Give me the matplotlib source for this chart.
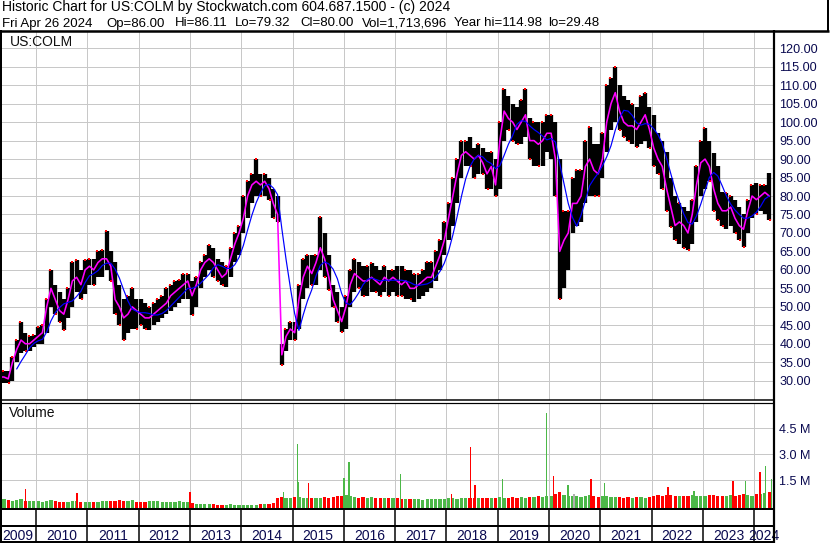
import matplotlib
matplotlib.use("Agg")
import matplotlib.pyplot as plt
from matplotlib.lines import Line2D
import numpy as np
import pandas as pd

# ---------------- data (monthly) ----------------
months = pd.period_range("2009-04", "2024-04", freq="M")

price_high = [
    # 2009 Apr-Dec
    32.5, 32.5, 32.5, 36.5, 41, 46, 43, 42, 42.5,
    # 2010
    44.6, 45, 52, 60, 56, 54, 52, 55, 62, 62.7, 60, 62.7,
    # 2011
    63, 63, 65, 65.4, 70.4, 65, 62, 56, 52, 53, 55, 52,
    # 2012
    52, 51, 50, 51, 52, 53, 55, 56, 57, 57.3, 59, 59,
    # 2013
    57, 58, 62, 64, 66.7, 66, 63, 62, 61, 66, 70, 72,
    # 2014
    80, 84, 86, 90, 86, 86, 85, 82, 80, 40, 44, 46,
    # 2015
    46, 56, 63, 64, 64, 64, 74.4, 70, 64, 56, 54, 50,
    # 2016
    53, 60, 63, 62, 61, 61, 61.8, 61, 60, 61, 60, 60,
    # 2017
    61, 61, 60, 60, 59, 59, 60, 62, 62, 65, 68, 73,
    # 2018
    78, 85, 90, 95, 95, 96, 93, 94, 93, 92, 92, 90,
    # 2019
    100, 109, 107, 105, 104, 106, 109, 101, 100, 100, 100, 102,
    # 2020
    102, 100, 90, 76, 76, 85, 87, 87, 95, 98.8, 94, 94,
    # 2021
    97, 110, 112, 115, 110, 107, 106, 105, 104, 107, 108, 104,
    # 2022
    102, 97, 95, 92, 85, 80, 78, 77, 76, 79, 88, 95,
    # 2023
    98.4, 95, 91.6, 88, 81, 80.7, 80, 79, 77, 75, 79, 83,
    # 2024 Jan-Apr
    83.4, 83, 83, 86.1,
]
price_low = [
    30, 29.5, 29.3, 30, 35, 37.5, 38, 38, 39,
    40, 40, 43, 50, 48, 46, 43.7, 47, 50, 54, 52, 53.6,
    56, 56, 58, 58.2, 60, 57, 48, 45, 41, 43, 44, 44,
    45, 44, 43.7, 45, 46, 47, 48, 49, 50, 51, 52, 52,
    47.8, 50, 55, 58, 60, 58, 57, 56, 55.5, 58, 62, 64,
    70, 74, 78, 80, 80, 80, 79, 74, 73, 34.3, 38, 41,
    41, 44, 52, 55, 56, 56, 60, 58, 54.6, 50, 46, 43.3,
    44, 50, 54, 55, 53, 53, 54, 54, 53, 54, 53, 54,
    53, 53, 52, 52, 51.4, 52, 53, 54, 55, 57, 60, 64,
    68, 72, 78, 85, 88, 88, 85, 86, 86, 82, 82, 80,
    82, 95, 98, 95, 94, 94, 96, 90, 88, 88, 88, 92,
    90, 80, 52, 55, 60, 70, 72, 73, 78, 80, 80, 80,
    85, 92, 98, 100, 98, 96, 95, 94, 93.4, 94, 95, 93,
    88, 86, 82, 76, 71.7, 68, 67, 66, 65.4, 67, 73, 80,
    82, 84, 76, 73.5, 72, 71, 72, 70, 68, 66.3, 70, 74,
    75, 76, 75, 73.5,
]
price_close = [
    31, 31, 30.5, 35, 38.5, 41, 40, 40, 41,
    42, 43, 50, 55, 52, 49, 48, 52, 57, 58, 56, 60,
    61, 60, 62, 63, 63, 61, 52, 50, 47, 48, 50, 49,
    48, 47, 47, 48, 49, 50, 51, 53, 54, 55, 56, 57,
    53, 56, 60, 62, 63, 62, 60, 58, 59, 63, 67, 70,
    74, 80, 83, 84, 83, 84, 82, 78, 75, 37, 42, 44,
    43, 52, 58, 61, 59, 62, 66, 63, 58, 52, 49, 46,
    50, 56, 59, 58, 57, 57, 58, 57, 56, 58, 57, 58,
    57, 56, 57, 55, 55, 56, 57, 58, 58, 61, 64, 68,
    74, 80, 86, 91, 92, 91, 90, 91, 89, 86, 88, 83,
    95, 103, 101, 100, 98, 100, 102, 95, 95, 94, 95, 97,
    97, 90, 65, 68, 70, 78, 78, 80, 88, 90, 87, 86,
    90, 100, 105, 108, 103, 100, 99, 99, 98, 100, 102, 98,
    93, 90, 88, 82, 77, 72, 73, 72, 70, 75, 83, 89,
    90, 88, 82, 78, 76, 76, 77, 74, 72, 71, 76, 80,
    79, 80, 81, 80,
]
volume_m = [
    0.45, 0.40, 0.35, 0.30, 0.35, 0.40, 0.30, 0.30, 0.30,
    0.30, 0.25, 0.30, 0.35, 0.30, 0.25, 0.25, 0.25, 0.30, 0.30, 0.25, 0.25,
    0.25, 0.25, 0.25, 0.30, 0.30, 0.30, 0.30, 0.35, 0.30, 0.30, 0.35, 0.25,
    0.25, 0.25, 0.30, 0.30, 0.30, 0.25, 0.25, 0.25, 0.25, 0.30, 0.25, 0.25,
    0.20, 0.15, 0.15, 0.15, 0.12, 0.12, 0.10, 0.10, 0.10, 0.12, 0.10, 0.10,
    0.10, 0.10, 0.10, 0.10, 0.12, 0.12, 0.15, 0.20, 0.45, 0.55, 0.45, 0.50,
    0.55, 0.55, 0.50, 0.50, 0.45, 0.45, 0.50, 0.55, 0.50, 0.55, 0.60, 0.60,
    0.65, 0.60, 0.55, 0.50, 0.55, 0.50, 0.55, 0.50, 0.50, 0.50, 0.45, 0.45,
    0.45, 0.40, 0.40, 0.40, 0.40, 0.40, 0.35, 0.40, 0.40, 0.40, 0.40, 0.40,
    0.45, 0.45, 0.40, 0.45, 0.45, 0.50, 0.45, 0.45, 0.45, 0.50, 0.45, 0.50,
    0.55, 0.50, 0.50, 0.55, 0.50, 0.55, 0.50, 0.55, 0.55, 0.60, 0.55, 0.60,
    0.60, 0.70, 0.80, 0.65, 0.60, 0.60, 0.60, 0.55, 0.60, 0.65, 0.60, 0.55,
    0.60, 0.60, 0.55, 0.55, 0.55, 0.50, 0.55, 0.50, 0.55, 0.55, 0.50, 0.55,
    0.60, 0.65, 0.60, 0.65, 0.65, 0.60, 0.60, 0.60, 0.60, 0.65, 0.60, 0.60,
    0.60, 0.65, 0.65, 0.60, 0.60, 0.60, 0.65, 0.60, 0.65, 0.70, 0.65, 0.60,
    0.70, 0.70, 0.75, 0.80,
]
# single-day volume spikes (decimal year, millions, colour)
spike_time = [2009.79, 2010.80, 2013.00, 2014.83, 2015.10, 2015.12, 2015.31,
              2016.00, 2016.10, 2017.11, 2018.10, 2018.47, 2018.56, 2019.09,
              2019.95, 2020.09, 2020.37, 2020.49, 2020.82, 2021.08, 2022.32,
              2022.83, 2023.59, 2023.83, 2024.11, 2024.22, 2024.34]
spike_vol = [1.0, 0.75, 0.84, 0.85, 3.58, 1.4, 1.33,
             1.65, 2.54, 1.86, 0.71, 3.4, 1.23, 1.6,
             5.37, 1.75, 1.23, 0.7, 1.56, 1.33, 1.11,
             0.9, 1.46, 1.46, 1.96, 2.33, 1.6]
spike_col = ["r", "r", "r", "g", "g", "g", "r",
             "g", "g", "g", "r", "r", "r", "g",
             "g", "r", "g", "k", "r", "g", "r",
             "g", "r", "g", "r", "g", "g"]

price_ticks = list(range(30, 121, 5))
vol_ticks = [1.5, 3.0, 4.5]
years = list(range(2009, 2025))

header1 = "Historic Chart for US:COLM by Stockwatch.com 604.687.1500 - (c) 2024"
header2_parts = ["Fri Apr 26 2024", "Op=86.00", "Hi=86.11", "Lo=79.32",
                 "Cl=80.00", "Vol=1,713,696", "Year hi=114.98", "lo=29.48"]
header2_x = [2, 106, 175, 235, 300, 362, 454, 548]

# ---------------- figure ----------------
W, H = 830, 543
plt.rcParams["font.family"] = ["Liberation Sans", "DejaVu Sans"]
fig = plt.figure(figsize=(W / 100, H / 100), dpi=100)
fig.patch.set_facecolor("white")

def rect(x0, y0, x1, y1):
    return [x0 / W, 1 - y1 / H, (x1 - x0) / W, (y1 - y0) / H]

def px(v):  # pixels -> points
    return v * 72 / 100

def hline(y, x0, x1, w=2, c="black"):
    fig.add_artist(Line2D([x0 / W, x1 / W], [1 - y / H, 1 - y / H],
                          transform=fig.transFigure, lw=px(w), color=c,
                          solid_capstyle="butt", zorder=10))

def vline(x, y0, y1, w=2, c="black"):
    fig.add_artist(Line2D([x / W, x / W], [1 - y0 / H, 1 - y1 / H],
                          transform=fig.transFigure, lw=px(w), color=c,
                          solid_capstyle="butt", zorder=10))

X_RIGHT = 773
t_left = 2010 + (0 - 36) / 51.3
t_right = 2010 + (X_RIGHT - 36) / 51.3

LABEL_COL = "#0a0a50"
GRID_COL = "#c8c8c8"
FS_HEAD = 10
FS_HEAD2 = 9.5
FS_AX = 9.1
FS_YEAR = 10

tm = np.array([p.year + (p.month - 0.5) / 12 for p in months])
hi = np.array(price_high)
lo = np.array(price_low)
cl = np.array(price_close)
vol = np.array(volume_m)

# ---- price panel ----
ax = fig.add_axes(rect(0, 31, X_RIGHT, 400))
ax.set_xlim(t_left, t_right)
ax.set_ylim(24.77, 124.68)
for s in ax.spines.values():
    s.set_visible(False)
ax.set_xticks(years[1:])
ax.set_xticklabels([])
ax.tick_params(axis="x", length=0)
ax.yaxis.tick_right()
ax.set_yticks(price_ticks)
ax.set_yticklabels([f"{v:.2f}" for v in price_ticks])
ax.tick_params(axis="y", length=0, pad=4.5, labelsize=FS_AX, labelcolor=LABEL_COL)
ax.grid(True, color=GRID_COL, lw=px(1))
ax.set_axisbelow(True)

ax.vlines(tm, lo, hi, color="black", lw=px(4.3), zorder=3)
prev = np.concatenate([[cl[0]], cl[:-1]])
down = cl < prev
ax.scatter(tm[down] + 0.012, lo[down], s=3, marker="s", color="red", lw=0, zorder=4)
ax.scatter(tm[~down] - 0.012, hi[~down], s=3, marker="s", color="red", lw=0, zorder=4)
ma_short = pd.Series(cl).rolling(1).mean()
ma_long = pd.Series(cl).rolling(5).mean()
ax.plot(tm, ma_short, color="#ff00ff", lw=px(1.6), zorder=5)
ax.plot(tm, ma_long, color="#0000ff", lw=px(1.2), zorder=6)
ax.text(10 / X_RIGHT, 1 - (46 - 31) / 369, "US:COLM", transform=ax.transAxes,
        fontsize=FS_HEAD, va="baseline", ha="left", color="#101010")

# ---- volume panel ----
av = fig.add_axes(rect(0, 403, X_RIGHT, 509))
av.set_xlim(t_left, t_right)
vmin, vmax = -0.156, 5.96
av.set_ylim(vmin, vmax)
for s in av.spines.values():
    s.set_visible(False)
av.set_xticks(years[1:])
av.set_xticklabels([])
av.tick_params(axis="x", length=0)
av.yaxis.tick_right()
av.set_yticks(vol_ticks)
av.set_yticklabels([f"{v:.1f} M" for v in vol_ticks])
av.tick_params(axis="y", length=0, pad=4.5, labelsize=FS_AX, labelcolor=LABEL_COL)
av.grid(True, color=GRID_COL, lw=px(1))
av.set_axisbelow(True)
cmap = {"r": "#ff0000", "g": "#4cb848", "k": "#b0b0b0"}
vcol = np.where(down, cmap["r"], cmap["g"])
av.bar(tm, vol - vmin, bottom=vmin, width=0.75 / 12, color=vcol, lw=0, zorder=3)
av.bar(spike_time, np.array(spike_vol) - vmin, bottom=vmin, width=0.028,
       color=[cmap[c] for c in spike_col], lw=0, zorder=4)
av.text(9 / X_RIGHT, 1 - (417 - 403) / 106, "Volume", transform=av.transAxes,
        fontsize=FS_HEAD, va="baseline", ha="left", color="#101010")

# ---- date strip ----
ad = fig.add_axes(rect(0, 509, X_RIGHT, 543))
ad.set_xlim(t_left, t_right)
ad.set_ylim(0, 1)
ad.axis("off")
for y in years[1:]:
    ad.plot([y, y], [0, 1], color="black", lw=px(1.5), solid_capstyle="butt")
for y in years:
    a = max(y, t_left)
    b = min(y + 1, t_right)
    ad.text((a + b) / 2, (543 - 535.5) / 34, str(y), ha="center", va="center",
            fontsize=FS_YEAR, color=LABEL_COL, clip_on=False)

# ---- frame lines ----
hline(30.5, 0, 829, 2.5)
vline(828, 0, 31, 2)
vline(1, 30, 543, 2)
vline(773.5, 30, 543, 2.2)
hline(400, 0, 773, 1.5)
hline(403, 0, 773, 1.2)
hline(509, 0, 773, 2)
hline(526, 0, 773, 2)
hline(542, 0, 773, 2)

# ---- header ----
fig.text(2 / W, 1 - 10.5 / H, header1, fontsize=FS_HEAD, va="baseline",
         ha="left", color="black")
for txt, xx in zip(header2_parts, header2_x):
    fig.text(xx / W, 1 - 26.5 / H, txt, fontsize=FS_HEAD2, va="baseline",
             ha="left", color="black")

fig.savefig("out.png", dpi=100, facecolor="white")
